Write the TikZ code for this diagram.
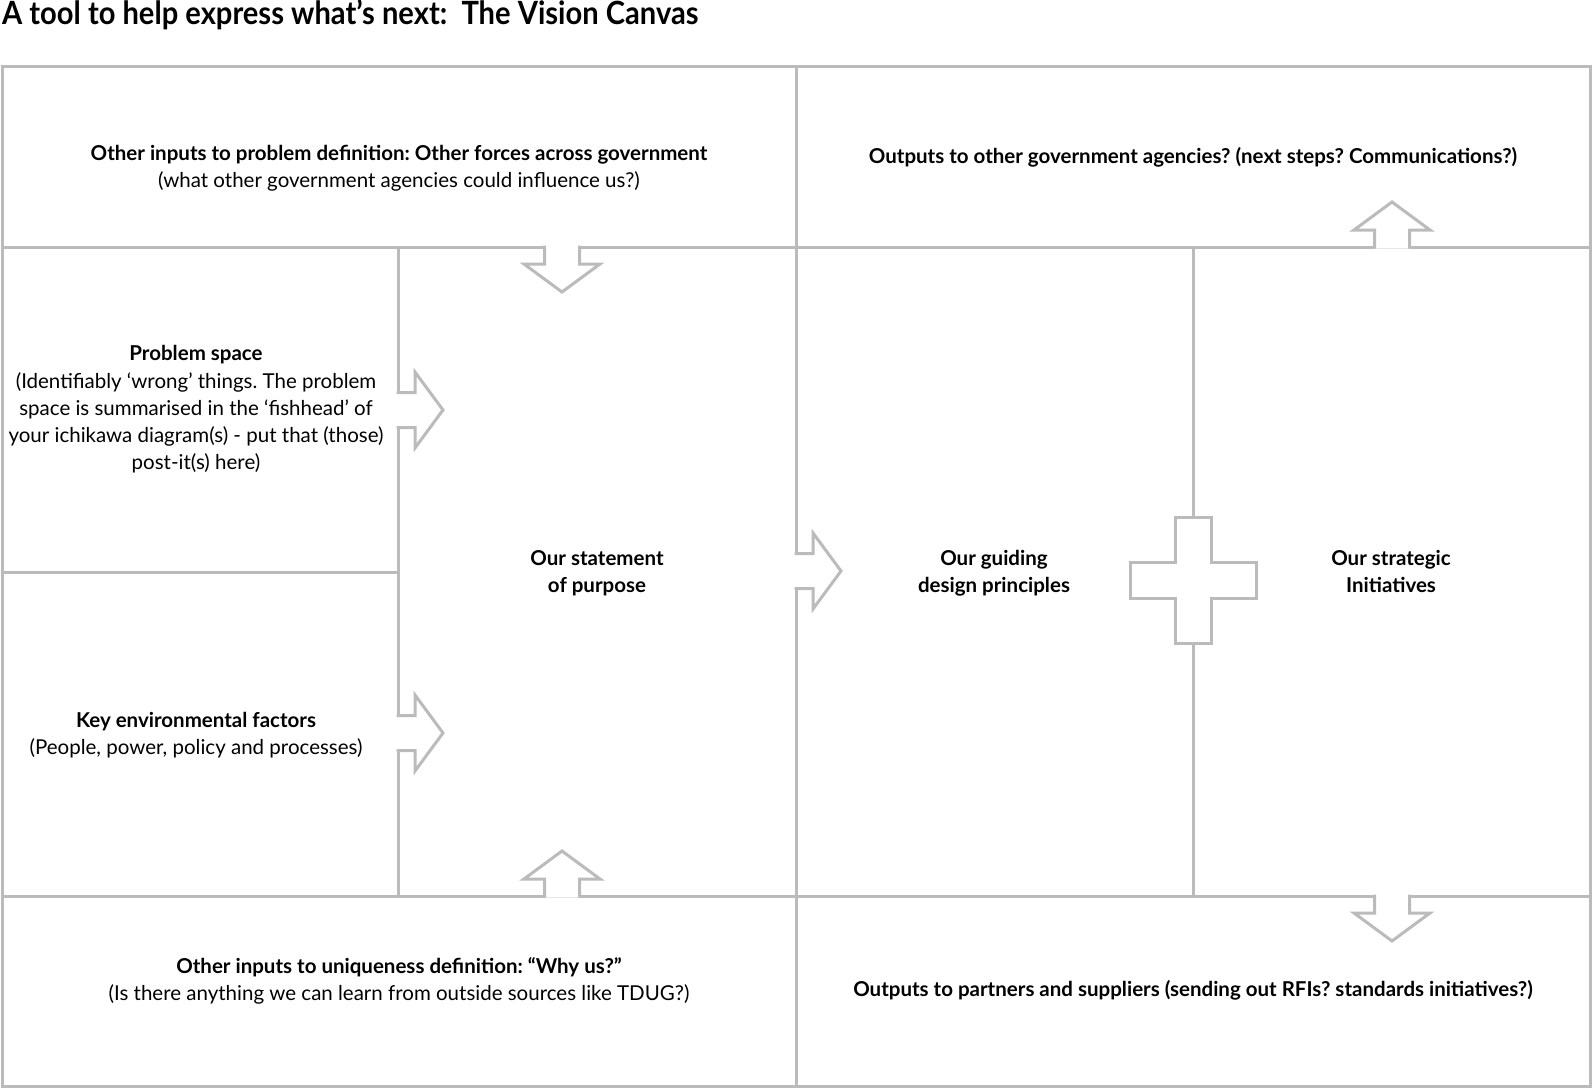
\documentclass[tikz,border=0pt]{standalone}
\usepackage{fontspec}
\setmainfont{Lato}
\newfontfamily\titlefont{Lato}[FakeStretch=0.91]
\definecolor{canvasgrey}{RGB}{187,187,187}
\frenchspacing

\begin{document}
\begin{tikzpicture}[
  x=1pt, y=-1pt,
  font=\fontsize{20.5}{27.2}\selectfont,
  canvasline/.style={draw=canvasgrey, line width=3pt},
  blurb/.style={align=center, inner sep=0pt},
  heading/.style={anchor=base west, inner sep=0pt, font=\titlefont\fontsize{32}{38}\selectfont\bfseries},
  fatarrow/.pic={
    \filldraw[canvasline, fill=white] (-1.5,-17.5) -- (17,-17.5) -- (17,-38) -- (45,0)
      -- (17,38) -- (17,17.5) -- (-1.5,17.5);
  },
]
\useasboundingbox (0,0) rectangle (1593,1089);

% frame and grid
\draw[canvasline] (2,67) rectangle (1590,1086);
\draw[canvasline] (2,247) -- (1590,247);
\draw[canvasline] (2,896) -- (1590,896);
\draw[canvasline] (796,67) -- (796,1086);
\draw[canvasline] (398,247) -- (398,896);
\draw[canvasline] (1193,247) -- (1193,896);
\draw[canvasline] (2,572) -- (398,572);

% block arrows
\pic[rotate=-90] at (562,247) {fatarrow};
\pic at (398,410) {fatarrow};
\pic at (398,733) {fatarrow};
\pic[rotate=90] at (562,896) {fatarrow};
\pic at (796,571) {fatarrow};
\pic[rotate=90] at (1392,247) {fatarrow};
\pic[rotate=-90] at (1392,896) {fatarrow};

% plus sign
\filldraw[canvasline, fill=white] (1175,517) -- (1211,517) -- (1211,562) -- (1256,562)
  -- (1256,598) -- (1211,598) -- (1211,643) -- (1175,643) -- (1175,598) -- (1130,598)
  -- (1130,562) -- (1175,562) -- cycle;

\node[heading] (title) at (2,25) {A tool to help express what’s next:\ \ The Vision Canvas};

\node[blurb] (forces) at (399,168.5) {\textbf{Other inputs to problem definition: Other forces across government}\\(what other government agencies could influence us?)};
\node[blurb] (agencies) at (1193,157) {\textbf{Outputs to other government agencies? (next steps? Communications?)}};
\node[blurb] (problem) at (196,409.5) {\textbf{Problem space}\\(Identifiably ‘wrong’ things. The problem\\space is summarised in the ‘fishhead’ of\\your ichikawa diagram(s) - put that (those)\\post-it(s) here)};
\node[blurb] (environment) at (196,735) {\textbf{Key environmental factors}\\(People, power, policy and processes)};
\node[blurb] (purpose) at (597,573) {\textbf{Our statement}\\\textbf{of purpose}};
\node[blurb] (principles) at (994,573) {\textbf{Our guiding}\\\textbf{design principles}};
\node[blurb] (initiatives) at (1391,571.5) {\textbf{Our strategic}\\\textbf{Initiatives}};
\node[blurb] (whyus) at (399,980.5) {\textbf{Other inputs to uniqueness definition: “Why us?”}\\(Is there anything we can learn from outside sources like TDUG?)};
\node[blurb] (partners) at (1193,990.5) {\textbf{Outputs to partners and suppliers (sending out RFIs? standards initiatives?)}};

\end{tikzpicture}
\end{document}
